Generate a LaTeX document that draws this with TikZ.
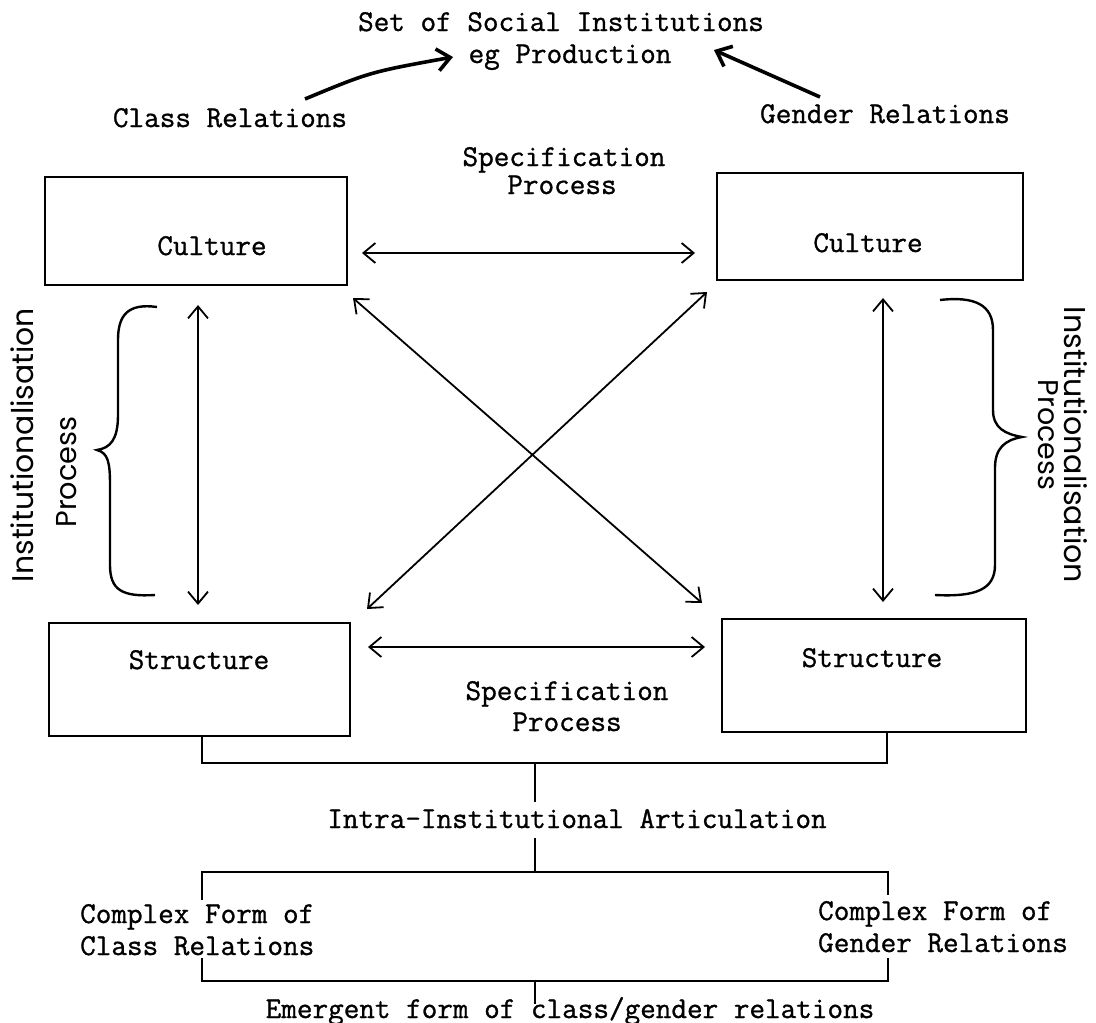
\documentclass[tikz,border=0pt]{standalone}
\usepackage{fontspec}
\usepackage{graphicx}
\newfontfamily\rotsans{Poppins}
\newfontfamily\tyfont{Latin Modern Mono}[FakeBold=1.0]
\usetikzlibrary{arrows.meta}
\begin{document}
\begin{tikzpicture}[x=1pt,y=-1pt,
  box/.style={draw, line width=2.6pt, inner sep=0pt, rectangle},
  tt/.style={font=\fontsize{30.3}{32}\selectfont\tyfont, inner sep=0pt},
  rs/.style={inner sep=0pt},
  arr/.style={line width=1.8pt, {Straight Barb[length=12pt,width=20pt]}-{Straight Barb[length=12pt,width=20pt]}},
  barr/.style={line width=3.6pt, -{Straight Barb[length=13pt,width=22pt]}},
  brk/.style={line width=2.6pt},
  brc/.style={line width=2.4pt}]
\fill[white] (0,0) rectangle (1096,1023);
\useasboundingbox (0,0) rectangle (1096,1023);

% boxes
\node[box, minimum width=302pt, minimum height=108pt] (cultL) at (196,231) {};
\node[box, minimum width=306pt, minimum height=107pt] (cultR) at (870,226.5) {};
\node[box, minimum width=301pt, minimum height=113pt] (strL) at (199.5,679.5) {};
\node[box, minimum width=304pt, minimum height=113pt] (strR) at (874,675.5) {};

% box labels
\node[tt, anchor=base] (cultLt) at (212,255) {Culture};
\node[tt, anchor=base] (cultRt) at (868,252) {Culture};
\node[tt, anchor=base] (strLt) at (199,669) {Structure};
\node[tt, anchor=base] (strRt) at (872,667) {Structure};

% top texts
\node[tt, anchor=base] (title1) at (561,31) {Set of Social Institutions};
\node[tt, anchor=base] (title2) at (570,63) {eg Production};
\node[tt, anchor=base] (classrel) at (230,127) {Class Relations};
\node[tt, anchor=base] (genderrel) at (885,123) {Gender Relations};

\node[tt, anchor=base] (specT1) at (564,166) {Specification};
\node[tt, anchor=base] (specT2) at (562,194) {Process};
\node[tt, anchor=base] (specB1) at (567,700) {Specification};
\node[tt, anchor=base] (specB2) at (567,731) {Process};

\node[tt, anchor=base] (intra) at (577,828) {Intra-Institutional Articulation};
\node[tt, anchor=base west] (cfL1) at (80,923) {Complex Form of};
\node[tt, anchor=base west] (cfL2) at (80,955) {Class Relations};
\node[tt, anchor=base west] (cfR1) at (818,920) {Complex Form of};
\node[tt, anchor=base west] (cfR2) at (818,952) {Gender Relations};
\node[tt, anchor=base] (emerg) at (570,1018) {Emergent form of class/gender relations};

% rotated sans labels
\node[rs, rotate=90] (instL) at (22,445) {\resizebox{274pt}{!}{\rotsans Institutionalisation}};
\node[rs, rotate=90] (procL) at (67,472) {\resizebox{111pt}{!}{\rotsans Process}};
\node[rs, rotate=-90] (instR) at (1076,445) {\resizebox{276pt}{!}{\rotsans Institutionalisation}};
\node[rs, rotate=-90] (procR) at (1048,435) {\resizebox{110pt}{!}{\rotsans Process}};

% arrow end points
\coordinate (ca1) at (305,99);  \coordinate (ca2) at (453,57);
\coordinate (ga1) at (820,97);  \coordinate (ga2) at (714,50);
\coordinate (hT1) at (362,253); \coordinate (hT2) at (695,253);
\coordinate (hB1) at (368,647); \coordinate (hB2) at (705,647);
\coordinate (d1a) at (353,298); \coordinate (d1b) at (702,603);
\coordinate (d2a) at (707,292); \coordinate (d2b) at (367,609);
\coordinate (vL1) at (198,305); \coordinate (vL2) at (198,605);
\coordinate (vR1) at (883,298); \coordinate (vR2) at (883,602);

\draw[barr] (ca1) .. controls (370,72) .. (ca2);
\draw[barr] (ga1) -- (ga2);
\draw[arr] (hT1) -- (hT2);
\draw[arr] (hB1) -- (hB2);
\draw[arr] (d1a) -- (d1b);
\draw[arr] (d2a) -- (d2b);
\draw[arr] (vL1) -- (vL2);
\draw[arr] (vR1) -- (vR2);

% braces
\draw[brc] (157,307) .. controls (128,303) and (118,315) .. (118,340) -- (118,415)
  .. controls (118,440) and (110,448) .. (97,450)
  .. controls (108,453) and (110,462) .. (110,485) -- (110,565)
  .. controls (110,590) and (122,597) .. (155,595);
\draw[brc] (940,300) .. controls (975,296) and (993,305) .. (993,330) -- (993,410)
  .. controls (993,428) and (1005,434) .. (1022,437)
  .. controls (1005,440) and (995,448) .. (995,468) -- (995,565)
  .. controls (995,590) and (975,597) .. (935,595);

% brackets
\coordinate (b1a) at (202,736); \coordinate (b1b) at (202,763);
\coordinate (b1c) at (887,763); \coordinate (b1d) at (887,732);
\coordinate (m1a) at (535,763); \coordinate (m1b) at (535,802);
\coordinate (m2a) at (535,838); \coordinate (m2b) at (535,872);
\coordinate (b2a) at (202,900); \coordinate (b2b) at (202,872);
\coordinate (b2c) at (888,872); \coordinate (b2d) at (888,895);
\coordinate (b3a) at (202,958); \coordinate (b3b) at (202,981);
\coordinate (b3c) at (888,981); \coordinate (b3d) at (888,958);
\coordinate (m3a) at (535,981); \coordinate (m3b) at (535,1004);

\draw[brk] (b1a) -- (b1b) -- (b1c) -- (b1d);
\draw[brk] (m1a) -- (m1b);
\draw[brk] (m2a) -- (m2b);
\draw[brk] (b2a) -- (b2b) -- (b2c) -- (b2d);
\draw[brk] (b3a) -- (b3b) -- (b3c) -- (b3d);
\draw[brk] (m3a) -- (m3b);
\end{tikzpicture}
\end{document}
